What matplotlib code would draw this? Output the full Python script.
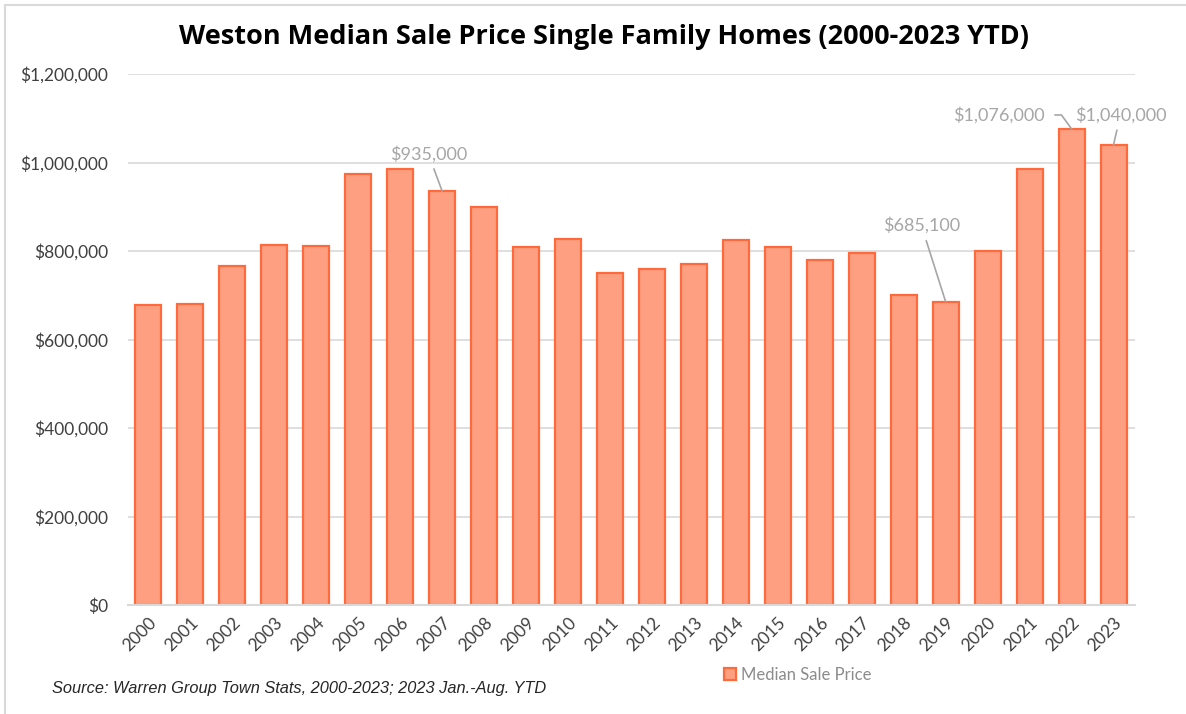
import matplotlib.pyplot as plt
from matplotlib.patches import Rectangle

years = ['2000', '2001', '2002', '2003', '2004', '2005', '2006', '2007',
         '2008', '2009', '2010', '2011', '2012', '2013', '2014', '2015',
         '2016', '2017', '2018', '2019', '2020', '2021', '2022', '2023']
median_price = [678000, 680000, 765000, 814000, 812000, 975000, 985000, 935000,
                900000, 810000, 828000, 750000, 760000, 771000, 825000, 810000,
                779000, 796000, 700000, 685100, 800000, 985000, 1076000, 1040000]

# labelled bars: (year, text)
callouts = ['2007', '2019', '2022', '2023']
callout_text = ['$935,000', '$685,100', '$1,076,000', '$1,040,000']

yticks = [0, 200000, 400000, 600000, 800000, 1000000, 1200000]

FILL = '#ff9f82'
EDGE = '#ff6a3d'
GRAY = '#a6a6a6'
TXT = '#404040'

fig = plt.figure(figsize=(11.86, 7.14), dpi=100)
ax = fig.add_axes([127.5 / 1186, 1 - 605 / 714, (1134.5 - 127.5) / 1186, (605 - 74) / 714])

x = range(len(years))
bars = ax.bar(x, median_price, width=0.62, color=FILL, edgecolor=EDGE,
              linewidth=1.6, label='Median Sale Price', zorder=3)

ax.set_xlim(-0.5, len(years) - 0.5)
ax.set_ylim(0, 1200000)
ax.set_yticks(yticks)
ax.set_yticklabels(['${:,}'.format(v) for v in yticks])
ax.set_xticks(list(x))
ax.set_xticklabels(years, rotation=45, ha='right', va='top', rotation_mode='anchor')
ax.tick_params(axis='y', length=0, pad=14, labelsize=12.5, labelcolor=TXT)
ax.tick_params(axis='x', length=0, pad=7, labelsize=12.5, labelcolor=TXT)
for lbl in ax.get_xticklabels() + ax.get_yticklabels():
    lbl.set_fontfamily('Lato')

ax.grid(axis='y', color='#d9d9d9', linewidth=1.2, zorder=0)
for s in ['top', 'right', 'left']:
    ax.spines[s].set_visible(False)
ax.spines['bottom'].set_color('#d9d9d9')
ax.spines['bottom'].set_linewidth(1.5)
ax.spines['bottom'].set_zorder(4)

# callouts with leader lines (offsets in points)
offsets = {'2007': (-10, 27), '2019': (-17.5, 55), '2022': (-52, 10), '2023': (5, 21.5)}
for yr, txt in zip(callouts, callout_text):
    i = years.index(yr)
    dx, dy = offsets[yr]
    arrow = dict(arrowstyle='-', color=GRAY, lw=1.2, shrinkA=3, shrinkB=0)
    if yr == '2022':
        arrow['connectionstyle'] = 'angle,angleA=0,angleB=126,rad=0'
        arrow['relpos'] = (1.0, 0.5)
        arrow['shrinkA'] = 5
    ax.annotate(txt, xy=(i, median_price[i]), xytext=(dx, dy), textcoords='offset points',
                ha='center', va='center', fontsize=13, color=GRAY, family='Lato',
                arrowprops=arrow)

fig.text(604 / 1186, 1 - 37 / 714, 'Weston Median Sale Price Single Family Homes (2000-2023 YTD)',
         ha='center', va='center', fontsize=19.5, fontweight='bold', family='Open Sans', color='black')

fig.text(52 / 1186, 1 - 688 / 714, 'Source: Warren Group Town Stats, 2000-2023; 2023 Jan.-Aug. YTD',
         ha='left', va='center', fontsize=11.8, style='italic',
         family=['Liberation Sans', 'DejaVu Sans'], color='#262626')

leg = fig.legend(handles=[bars], loc='center', bbox_to_anchor=(798 / 1186, 1 - 675 / 714),
                 frameon=False, handlelength=0.7, handleheight=0.7, handletextpad=0.3,
                 prop={'family': 'Lato', 'size': 12})
for t in leg.get_texts():
    t.set_color('#8c8c8c')

fig.patches.append(Rectangle((5 / 1186, -0.05), 1.1, 1 - 5 / 714 + 0.05, transform=fig.transFigure,
                             fill=False, edgecolor='#d9d9d9', linewidth=1.5))

fig.savefig('out.png', dpi=100)
